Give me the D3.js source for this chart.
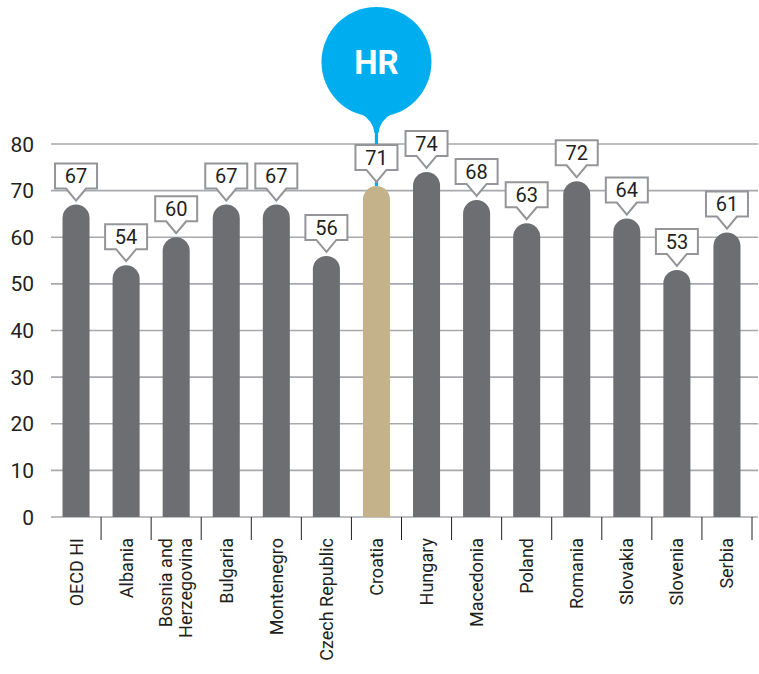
<!DOCTYPE html>
<html>
<head>
<meta charset="utf-8">
<script src="https://cdn.jsdelivr.net/npm/d3@7"></script>
<style>
  html, body { margin: 0; padding: 0; background: #fff; }
  svg text { font-family: "Liberation Sans Narrow", Roboto, sans-serif; }
</style>
</head>
<body>
<svg id="chart" width="759" height="674"></svg>
<script>
const categories = ["OECD HI", "Albania", "Bosnia and|Herzegovina", "Bulgaria", "Montenegro", "Czech Republic",
  "Croatia", "Hungary", "Macedonia", "Poland", "Romania", "Slovakia", "Slovenia", "Serbia"];
const values = [67, 54, 60, 67, 67, 56, 71, 74, 68, 63, 72, 64, 53, 61];
const yTicks = [0, 10, 20, 30, 40, 50, 60, 70, 80];
const highlight = "Croatia";
const highlightCode = "HR";

(function () {
const svg = d3.select("#chart");
const plotLeft = 51, plotRight = 752, plotTop = 144, plotBottom = 517;

const x = d3.scaleBand().domain(categories).range([plotLeft, plotRight]).paddingInner(0.46).paddingOuter(0.23);
const xb = d3.scaleBand().domain(categories).range([plotLeft, plotRight]).padding(0);
const y = d3.scaleLinear().domain([0, 80]).range([plotBottom, plotTop]);

// gridlines + y labels
const yAxis = svg.append("g");
yAxis.selectAll("line").data(yTicks).join("line")
  .attr("x1", plotLeft).attr("x2", 758)
  .attr("y1", d => y(d)).attr("y2", d => y(d))
  .attr("stroke", "#a7a9ac").attr("stroke-width", 1.6);
yAxis.selectAll("text").data(yTicks).join("text")
  .attr("x", 34).attr("y", d => y(d)).attr("dy", "0.36em")
  .attr("text-anchor", "end").attr("font-size", 21).attr("fill", "#231f20")
  .text(d => d);

// category separators below baseline
svg.append("g").selectAll("line").data(categories)
  .join("line")
  .attr("x1", d => xb(d) + xb.bandwidth())
  .attr("x2", d => xb(d) + xb.bandwidth())
  .attr("y1", plotBottom).attr("y2", 540)
  .attr("stroke", "#231f20").attr("stroke-width", 1);

// highlight bubble
const hx = x(highlight) + x.bandwidth() / 2;
const hv = values[categories.indexOf(highlight)];
const bubble = svg.append("g");
const cy = 62, r = 55;
bubble.append("rect").attr("x", hx - 1.6).attr("y", cy).attr("width", 3.2).attr("height", y(hv) - cy)
  .attr("fill", "#00aeef");
bubble.append("path")
  .attr("d", `M${hx - 16},${cy + r - 4} Q${hx - 3},${cy + r + 4} ${hx - 2},${cy + r + 16} L${hx + 2},${cy + r + 16} Q${hx + 3},${cy + r + 4} ${hx + 16},${cy + r - 4} Z`)
  .attr("fill", "#00aeef");
bubble.append("circle").attr("cx", hx).attr("cy", cy).attr("r", r).attr("fill", "#00aeef");
bubble.append("text").attr("x", hx).attr("y", cy).attr("dy", "0.36em")
  .attr("text-anchor", "middle").attr("font-size", 33).attr("font-weight", "bold")
  .attr("fill", "#fff").text(highlightCode);

// bars with rounded tops
const bw = x.bandwidth();
svg.append("g").selectAll("path").data(categories).join("path")
  .attr("d", (d, i) => {
    const x0 = x(d), yt = y(values[i]), rr = bw / 2;
    return `M${x0},${plotBottom} L${x0},${yt + rr} A${rr},${rr} 0 0 1 ${x0 + bw},${yt + rr} L${x0 + bw},${plotBottom} Z`;
  })
  .attr("fill", d => d === highlight ? "#c4b28a" : "#6d6e71");

// value callouts
const bw2 = 21, bh = 25, ph = 12;
const callouts = svg.append("g").selectAll("g").data(categories).join("g")
  .attr("transform", (d, i) => `translate(${x(d) + bw / 2},${y(values[i]) - 4})`);
callouts.append("path")
  .attr("d", `M0,0 L-10,${-ph} L${-bw2},${-ph} L${-bw2},${-ph - bh} L${bw2},${-ph - bh} L${bw2},${-ph} L10,${-ph} Z`)
  .attr("fill", "#fff").attr("stroke", "#939598").attr("stroke-width", 2).attr("stroke-linejoin", "miter");
callouts.append("text")
  .attr("y", -ph - bh / 2).attr("dy", "0.36em")
  .attr("text-anchor", "middle").attr("font-size", 20).attr("fill", "#231f20")
  .text((d, i) => values[i]);

// category labels, rotated
const lab = svg.append("g").selectAll("text").data(categories).join("text")
  .attr("transform", d => `translate(${x(d) + bw / 2},538) rotate(-90)`)
  .attr("text-anchor", "end").attr("font-size", 18).attr("fill", "#231f20");
lab.each(function (d) {
  const parts = d.split("|");
  const t = d3.select(this);
  parts.forEach((p, k) => {
    t.append("tspan").attr("x", 0)
      .attr("dy", k === 0 ? (parts.length === 1 ? "0.36em" : "-0.22em") : "1.1em")
      .text(p);
  });
});
})();
</script>
</body>
</html>
